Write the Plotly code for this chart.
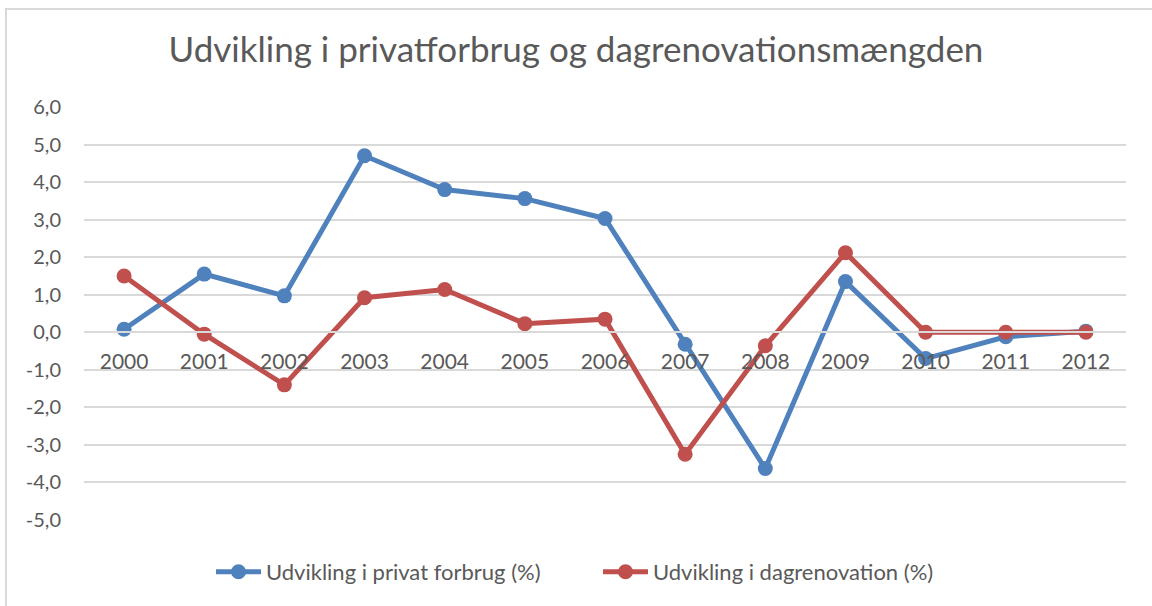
import plotly.graph_objects as go

years = ["2000", "2001", "2002", "2003", "2004", "2005", "2006",
         "2007", "2008", "2009", "2010", "2011", "2012"]
privat_forbrug = [0.08, 1.55, 0.97, 4.70, 3.80, 3.56, 3.03,
                  -0.32, -3.63, 1.35, -0.70, -0.12, 0.03]
dagrenovation = [1.50, -0.05, -1.40, 0.92, 1.14, 0.23, 0.35,
                 -3.25, -0.36, 2.12, 0.0, 0.0, 0.0]
series_names = ["Udvikling i privat forbrug (%)", "Udvikling i dagrenovation (%)"]
title_text = "Udvikling i privatforbrug og dagrenovationsmængden"
y_ticks = [-5, -4, -3, -2, -1, 0, 1, 2, 3, 4, 5, 6]
y_ticklabels = [f"{v:.1f}".replace(".", ",") for v in y_ticks]

W, H = 1152, 606
L, R, T, B = 84, 26, 107, 86
plot_w = W - L - R
plot_h = H - T - B

y_min, y_max = -5, 6
font_family = "Lato, 'Open Sans', sans-serif"
grey = "#595959"

fig = go.Figure()
fig.add_trace(go.Scatter(
    x=years, y=privat_forbrug, name=series_names[0], mode="lines+markers",
    line=dict(color="#4F81BD", width=5), marker=dict(size=15, color="#4F81BD"),
))
fig.add_trace(go.Scatter(
    x=years, y=dagrenovation, name=series_names[1], mode="lines+markers",
    line=dict(color="#C0504D", width=5), marker=dict(size=15, color="#C0504D"),
))

zero_frac = (0 - y_min) / (y_max - y_min)

fig.update_layout(
    width=W, height=H,
    margin=dict(l=L, r=R, t=T, b=B, pad=0),
    paper_bgcolor="white", plot_bgcolor="white",
    font=dict(family=font_family, color=grey, size=18),
    title=dict(text=title_text, x=0.5, xanchor="center", y=1 - 50 / H, yanchor="middle",
               font=dict(size=35, color=grey, family=font_family)),
    xaxis=dict(
        type="category", range=[-0.5, 12.5],
        anchor="free", position=zero_frac,
        showgrid=False, showline=True, linecolor="#d9d9d9", linewidth=1.5,
        ticks="outside", ticklen=11, tickcolor="rgba(0,0,0,0)",
        tickfont=dict(size=21, color=grey),
    ),
    yaxis=dict(
        range=[y_min, y_max], tickmode="array", tickvals=y_ticks, ticktext=y_ticklabels,
        showgrid=True, gridcolor="#d9d9d9", gridwidth=1.5,
        zeroline=False, showline=False,
        ticks="outside", ticklen=18, tickcolor="rgba(0,0,0,0)",
        tickfont=dict(size=20, color=grey),
    ),
    legend=dict(orientation="h", x=(211 - L) / plot_w, xanchor="left",
                y=-(572 - (T + plot_h)) / plot_h, yanchor="middle",
                font=dict(size=22, color=grey), itemwidth=45,
                entrywidth=327, entrywidthmode="pixels",
                traceorder="normal"),
    shapes=[dict(type="rect", xref="paper", yref="paper",
                 x0=(6 - L) / plot_w, x1=(W + 20 - L) / plot_w,
                 y0=-(H + 20 - T - plot_h) / plot_h, y1=(T + plot_h - 9) / plot_h,
                 line=dict(color="#d9d9d9", width=2), fillcolor="rgba(0,0,0,0)",
                 layer="above")],
)

fig.write_html("out.html", config={"displayModeBar": False},
               post_script="document.body.style.margin='0';document.body.style.overflow='hidden';")
